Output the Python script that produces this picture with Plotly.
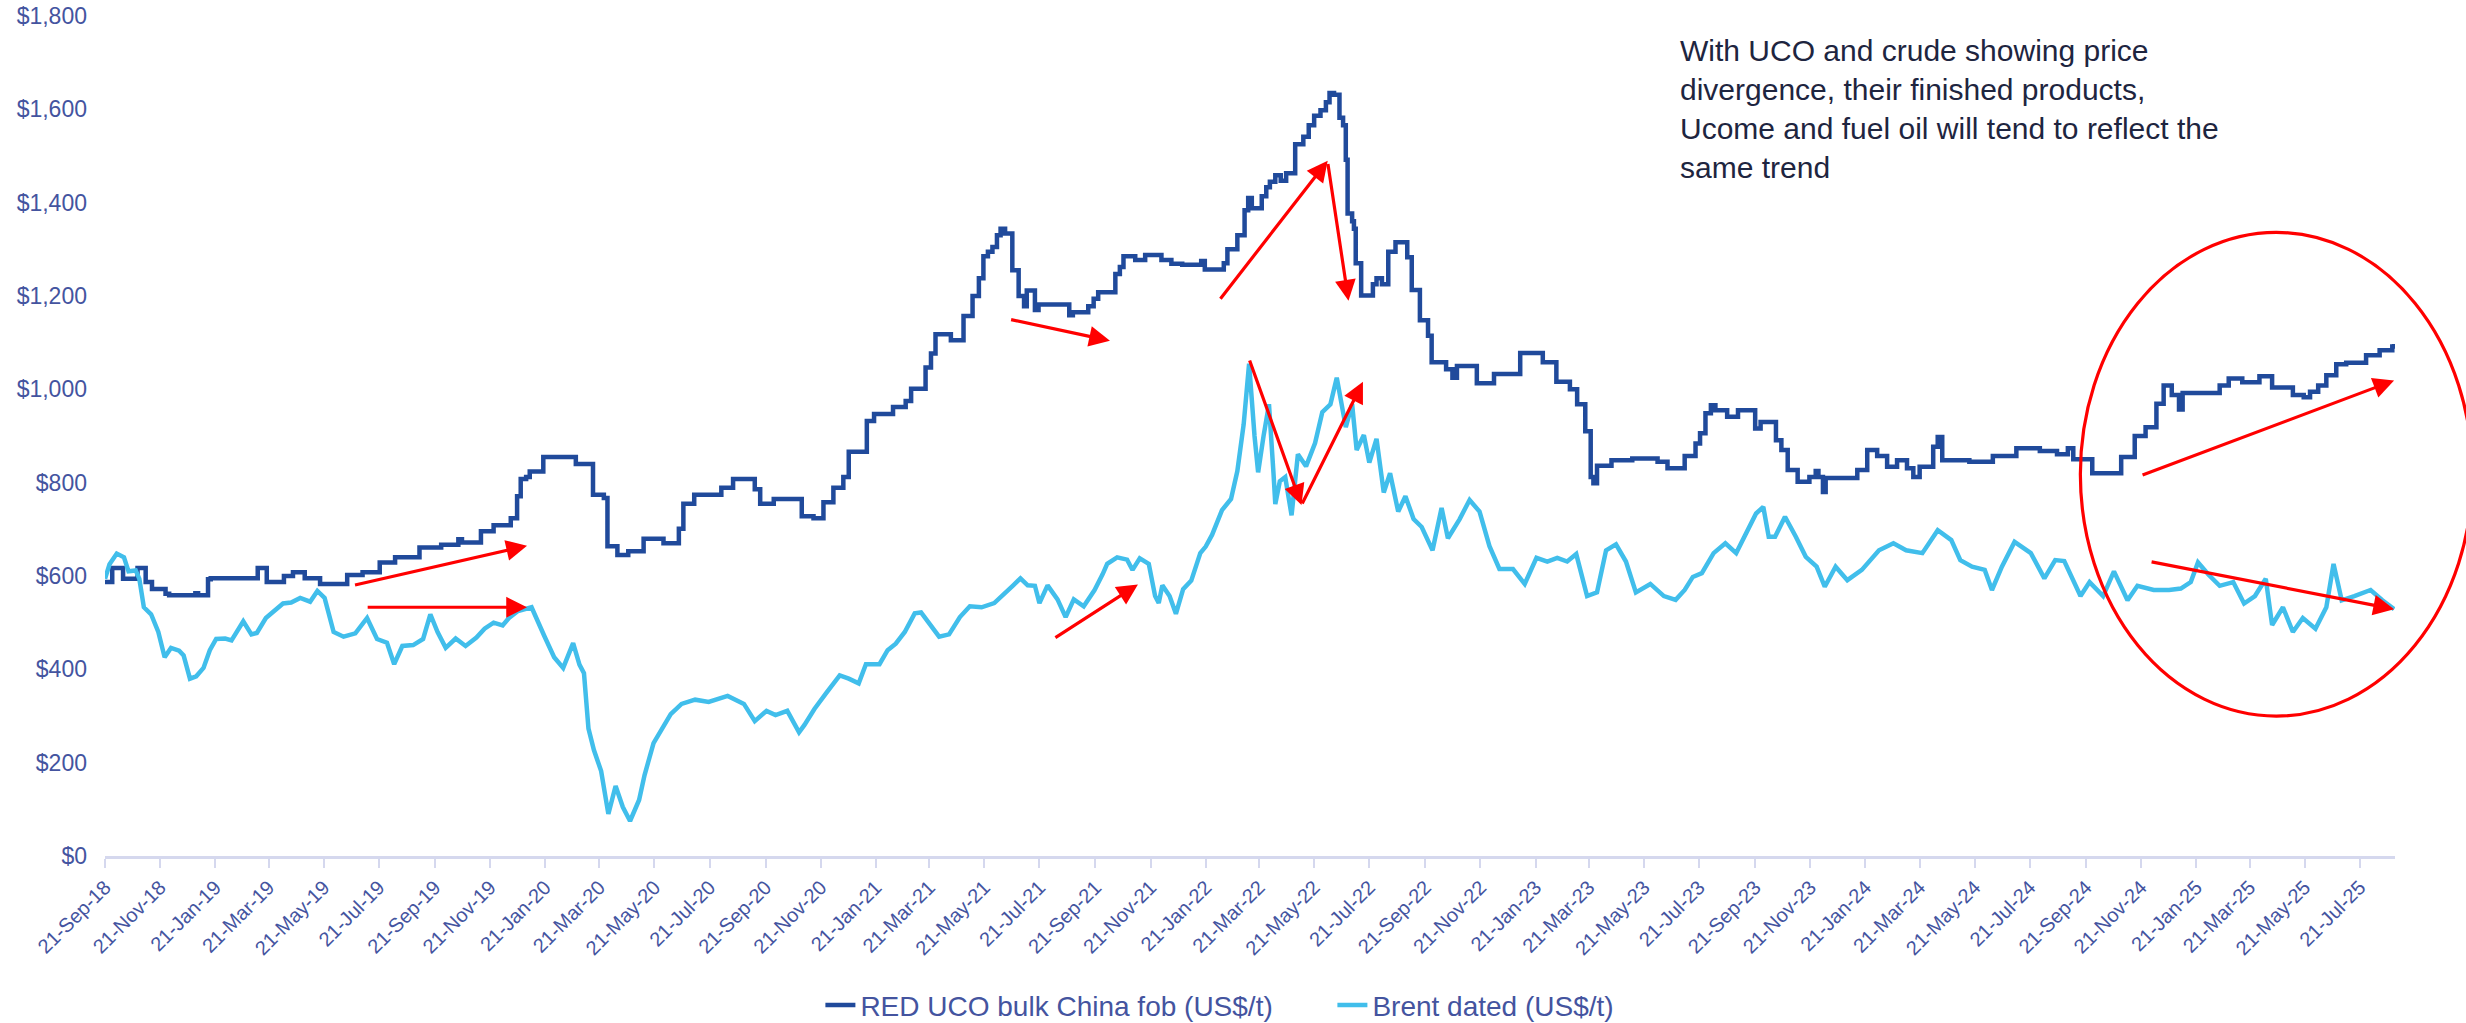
import pandas as pd
import plotly.graph_objects as go

# ---------------- data ----------------
uco_dates = [
    "2018-09-21","2018-09-29","2018-10-11","2018-10-27","2018-11-05","2018-11-12","2018-11-27","2018-12-01",
    "2018-12-30","2019-01-02","2019-01-13","2019-01-16","2019-03-09","2019-03-19","2019-04-07","2019-04-17",
    "2019-04-30","2019-05-17","2019-06-16","2019-07-03","2019-07-22","2019-08-08","2019-09-04","2019-09-28",
    "2019-10-17","2019-10-21","2019-11-11","2019-11-25","2019-12-14","2019-12-21","2019-12-25","2019-12-31",
    "2020-01-04","2020-01-19","2020-02-24","2020-03-14","2020-03-26","2020-03-30","2020-04-10","2020-04-22",
    "2020-05-09","2020-05-31","2020-06-17","2020-06-22","2020-07-04","2020-08-03","2020-08-16","2020-09-09",
    "2020-09-15","2020-09-30","2020-10-31","2020-11-13","2020-11-24","2020-12-05","2020-12-16","2020-12-22",
    "2021-01-11","2021-01-19","2021-02-09","2021-02-23","2021-03-01","2021-03-17","2021-03-23","2021-03-28",
    "2021-04-14","2021-04-28","2021-05-08","2021-05-15","2021-05-20","2021-05-25","2021-05-30","2021-06-04",
    "2021-06-08","2021-06-13","2021-06-21","2021-06-28","2021-07-04","2021-07-07","2021-07-16","2021-07-20",
    "2021-08-23","2021-08-27","2021-09-13","2021-09-19","2021-09-24","2021-10-13","2021-10-18","2021-10-22",
    "2021-11-04","2021-11-15","2021-12-03","2021-12-14","2021-12-26","2022-01-16","2022-01-20","2022-02-10",
    "2022-02-14","2022-02-25","2022-03-05","2022-03-09","2022-03-13","2022-03-24","2022-03-29","2022-04-02",
    "2022-04-08","2022-04-14","2022-04-20","2022-04-30","2022-05-09","2022-05-15","2022-05-21","2022-05-28",
    "2022-06-03","2022-06-07","2022-06-12","2022-06-18","2022-06-22","2022-06-25","2022-06-27","2022-07-02",
    "2022-07-04","2022-07-06","2022-07-12","2022-07-25","2022-07-29","2022-08-04","2022-08-11","2022-08-19",
    "2022-09-01","2022-09-06","2022-09-15","2022-09-24","2022-09-28","2022-10-14","2022-10-21","2022-10-26",
    "2022-11-17","2022-12-06","2023-01-04","2023-01-29","2023-02-13","2023-02-28","2023-03-08","2023-03-17",
    "2023-03-23","2023-03-26","2023-03-30","2023-04-15","2023-05-08","2023-06-05","2023-06-16","2023-07-05",
    "2023-07-17","2023-07-22","2023-07-28","2023-08-03","2023-08-08","2023-08-21","2023-09-02","2023-09-21",
    "2023-09-27","2023-10-14","2023-10-20","2023-10-27","2023-11-07","2023-11-20","2023-11-27","2023-11-30",
    "2023-12-05","2023-12-08","2024-01-12","2024-01-23","2024-02-03","2024-02-14","2024-02-25","2024-03-07",
    "2024-03-14","2024-03-21","2024-04-05","2024-04-10","2024-04-15","2024-05-15","2024-06-10","2024-07-06",
    "2024-08-01","2024-08-20","2024-09-01","2024-09-07","2024-09-28","2024-10-30","2024-11-14","2024-11-26",
    "2024-12-08","2024-12-16","2024-12-25","2025-01-02","2025-01-06","2025-02-16","2025-02-26","2025-03-13",
    "2025-04-01","2025-04-15","2025-05-08","2025-05-20","2025-05-27","2025-06-05","2025-06-14","2025-06-25",
    "2025-07-06","2025-07-28","2025-08-12","2025-08-26","2025-08-28",
]
uco_values = [
    587,617,594,617,587,572,562,559,
    563,559,593,595,617,587,600,608,
    595,583,602,608,629,640,661,667,
    679,672,696,709,724,771,808,812,
    824,855,840,774,767,664,645,653,
    680,670,701,755,774,789,808,786,
    755,765,728,724,758,789,812,866,
    932,947,962,975,1001,1047,1077,1118,
    1105,1157,1200,1238,1285,1295,1305,1330,
    1344,1334,1255,1200,1178,1212,1170,1182,
    1159,1165,1178,1194,1208,1247,1262,1285,
    1277,1288,1277,1269,1267,1275,1257,1270,
    1300,1330,1384,1410,1388,1414,1433,1445,
    1459,1447,1463,1525,1541,1566,1586,1598,
    1615,1635,1631,1582,1566,1492,1377,1360,
    1344,1270,1201,1225,1238,1225,1295,1315,
    1283,1213,1148,1115,1058,1043,1025,1050,
    1013,1033,1078,1058,1016,1000,968,910,
    812,799,836,848,852,845,831,857,
    884,906,949,966,955,941,955,916,
    930,891,870,827,802,812,825,812,
    780,810,827,870,857,834,848,831,
    812,834,877,898,848,845,857,874,
    868,861,874,850,820,855,900,919,
    969,1008,988,957,992,1008,1023,1015,
    1028,1004,988,983,995,1008,1030,1054,
    1057,1073,1084,1092,1097,
]

brent_dates = [
    "2018-09-21","2018-09-26","2018-10-04","2018-10-12","2018-10-17","2018-10-25","2018-10-29","2018-11-03",
    "2018-11-11","2018-11-19","2018-11-26","2018-12-03","2018-12-12","2018-12-17","2018-12-24","2018-12-31",
    "2019-01-08","2019-01-15","2019-01-22","2019-02-01","2019-02-08","2019-02-21","2019-03-02","2019-03-08",
    "2019-03-18","2019-03-28","2019-04-06","2019-04-15","2019-04-25","2019-05-06","2019-05-14","2019-05-22",
    "2019-06-01","2019-06-12","2019-06-25","2019-07-08","2019-07-19","2019-07-30","2019-08-07","2019-08-16",
    "2019-08-28","2019-09-08","2019-09-16","2019-09-24","2019-10-03","2019-10-14","2019-10-25","2019-11-06",
    "2019-11-15","2019-11-25","2019-12-05","2019-12-12","2019-12-22","2020-01-06","2020-01-11","2020-01-20",
    "2020-01-31","2020-02-10","2020-02-21","2020-02-28","2020-03-04","2020-03-09","2020-03-15","2020-03-23",
    "2020-03-31","2020-04-08","2020-04-16","2020-04-24","2020-05-04","2020-05-10","2020-05-20","2020-05-30",
    "2020-06-08","2020-06-20","2020-07-05","2020-07-20","2020-08-10","2020-08-28","2020-09-09","2020-09-22",
    "2020-10-02","2020-10-15","2020-10-28","2020-11-03","2020-11-14","2020-11-27","2020-12-07","2020-12-12",
    "2020-12-22","2021-01-02","2021-01-10","2021-01-25","2021-02-03","2021-02-12","2021-02-22","2021-03-05",
    "2021-03-12","2021-03-22","2021-04-01","2021-04-12","2021-04-24","2021-05-05","2021-05-18","2021-06-01",
    "2021-06-10","2021-06-22","2021-06-30","2021-07-08","2021-07-16","2021-07-21","2021-07-30","2021-08-10",
    "2021-08-19","2021-08-28","2021-09-08","2021-09-20","2021-09-29","2021-10-04","2021-10-15","2021-10-26",
    "2021-11-01","2021-11-09","2021-11-19","2021-11-26","2021-11-30","2021-12-04","2021-12-12","2021-12-19",
    "2021-12-27","2022-01-05","2022-01-15","2022-01-21","2022-01-28","2022-02-08","2022-02-18","2022-02-25",
    "2022-03-04","2022-03-10","2022-03-16","2022-03-20","2022-03-26","2022-04-01","2022-04-06","2022-04-08",
    "2022-04-13","2022-04-19","2022-04-26","2022-05-03","2022-05-12","2022-05-22","2022-05-30","2022-06-08",
    "2022-06-15","2022-06-20","2022-06-25","2022-07-02","2022-07-07","2022-07-15","2022-07-21","2022-07-29",
    "2022-08-06","2022-08-13","2022-08-22","2022-08-30","2022-09-08","2022-09-17","2022-09-29","2022-10-09",
    "2022-10-16","2022-10-29","2022-11-09","2022-11-20","2022-12-01","2022-12-12","2022-12-27","2023-01-09",
    "2023-01-22","2023-02-03","2023-02-14","2023-02-25","2023-03-07","2023-03-19","2023-03-30","2023-04-09",
    "2023-04-20","2023-05-01","2023-05-12","2023-05-28","2023-06-12","2023-06-25","2023-07-05","2023-07-14",
    "2023-07-24","2023-08-06","2023-08-19","2023-08-31","2023-09-12","2023-09-22","2023-09-30","2023-10-06",
    "2023-10-13","2023-10-24","2023-11-05","2023-11-16","2023-11-28","2023-12-07","2023-12-19","2024-01-01",
    "2024-01-17","2024-02-05","2024-02-21","2024-03-06","2024-03-24","2024-04-10","2024-04-25","2024-05-05",
    "2024-05-18","2024-06-01","2024-06-09","2024-06-20","2024-07-04","2024-07-22","2024-08-06","2024-08-18",
    "2024-08-28","2024-09-06","2024-09-15","2024-09-25","2024-10-10","2024-10-22","2024-11-06","2024-11-17",
    "2024-12-05","2024-12-22","2025-01-04","2025-01-15","2025-01-23","2025-02-04","2025-02-16","2025-03-03",
    "2025-03-15","2025-03-27","2025-04-08","2025-04-15","2025-04-27","2025-05-08","2025-05-19","2025-06-02",
    "2025-06-14","2025-06-22","2025-07-01","2025-07-15","2025-08-02","2025-08-15","2025-08-28",
]
brent_values = [
    594,625,648,640,610,612,594,533,
    518,480,426,446,440,430,380,385,
    403,441,465,466,462,503,475,478,
    510,525,541,543,553,545,568,553,
    480,470,477,510,465,457,411,450,
    452,465,518,480,446,466,450,468,
    487,500,494,510,525,533,510,472,
    426,403,456,410,392,273,227,182,
    90,150,105,75,120,173,242,273,
    304,326,335,330,343,326,289,311,
    302,311,265,281,315,349,375,387,
    380,370,411,411,441,455,480,520,
    522,495,470,475,512,535,533,542,
    557,580,595,580,579,542,580,550,
    512,550,535,570,604,626,640,635,
    613,638,626,557,542,580,557,519,
    572,590,649,663,688,741,765,825,
    925,1055,900,822,900,968,820,754,
    803,812,730,861,835,885,951,968,
    1025,968,919,968,870,902,843,894,
    779,820,738,771,722,705,655,746,
    681,722,763,738,664,615,615,583,
    639,631,639,631,647,557,565,655,
    668,631,565,583,557,549,570,598,
    606,649,670,649,698,734,748,684,
    684,727,684,641,620,577,620,591,
    613,655,670,655,649,698,677,634,
    620,613,570,620,673,649,595,634,
    632,594,557,587,557,610,548,579,
    570,570,573,587,629,602,579,587,
    541,557,594,495,533,480,510,487,
    533,626,548,557,570,548,529,
]

series_names = ["RED UCO bulk China fob (US$/t)", "Brent dated (US$/t)"]
note_text = ("With UCO and crude showing price<br>divergence, their finished products,<br>"
             "Ucome and fuel oil will tend to reflect the<br>same trend")

# x-axis ticks: every two months on the 21st
tick_dates = pd.date_range("2018-09-21", "2025-07-21", freq=pd.DateOffset(months=2))
tick_text = [d.strftime("%d-%b-%y") for d in tick_dates]
y_ticks = list(range(0, 1801, 200))
y_tick_text = [f"${v:,}" for v in y_ticks]

# ---------------- styling ----------------
UCO_COLOR = "#204A9B"
BRENT_COLOR = "#41BEEB"
RED = "#FF0000"
AXIS_TXT = "#44549F"
FONT = "Liberation Sans, Arial, sans-serif"

fig = go.Figure()
fig.add_trace(go.Scatter(x=pd.to_datetime(uco_dates), y=uco_values, mode="lines",
                         name=series_names[0], line=dict(color=UCO_COLOR, width=4.5, shape="hv")))
fig.add_trace(go.Scatter(x=pd.to_datetime(brent_dates), y=brent_values, mode="lines",
                         name=series_names[1], line=dict(color=BRENT_COLOR, width=4.5)))

# red trend arrows: (tail date, tail value, head date, head value)
arrows = [
    ("2019-06-23", 580, "2020-01-01", 665),
    ("2019-07-07", 533, "2020-01-01", 533),
    ("2021-06-18", 1150, "2021-10-07", 1104),
    ("2021-08-06", 466, "2021-11-07", 582),
    ("2022-02-05", 1191, "2022-06-05", 1490),
    ("2022-06-05", 1486, "2022-06-28", 1190),
    ("2022-03-10", 1065, "2022-05-07", 752),
    ("2022-05-07", 752, "2022-07-14", 1016),
    ("2024-11-21", 815, "2025-08-28", 1019),
    ("2024-12-01", 631, "2025-08-28", 529),
]
annotations = []
for tx, ty, hx, hy in arrows:
    annotations.append(dict(x=hx, y=hy, ax=tx, ay=ty, xref="x", yref="y", axref="x", ayref="y",
                            text="", showarrow=True, arrowhead=2, arrowsize=1.3, arrowwidth=3.2,
                            arrowcolor=RED, standoff=0, startstandoff=0))
annotations.append(dict(x=0.6868, y=0.981, xref="paper", yref="paper", xanchor="left", yanchor="top",
                        text=note_text, showarrow=False, align="left",
                        font=dict(family=FONT, size=30, color="#1E2540")))

shapes = [dict(type="circle", xref="paper", yref="paper", x0=0.8626, x1=1.0338, y0=0.1666, y1=0.7424,
               line=dict(color=RED, width=3.2), fillcolor="rgba(0,0,0,0)", layer="above")]

fig.update_layout(
    width=2466, height=1023,
    margin=dict(l=105, r=71, t=16, b=167, autoexpand=False),
    paper_bgcolor="white", plot_bgcolor="white",
    font=dict(family=FONT, color=AXIS_TXT, size=20),
    showlegend=True,
    legend=dict(orientation="h", x=0.3124, xanchor="left", y=0.0172, yanchor="middle", yref="container",
                entrywidth=467, entrywidthmode="pixels",
                font=dict(family=FONT, size=28, color=AXIS_TXT), bgcolor="rgba(0,0,0,0)"),
    annotations=annotations,
    shapes=shapes,
    xaxis=dict(type="date", range=["2018-09-21", "2025-08-29"], tickvals=tick_dates, ticktext=tick_text,
               tickangle=-45, showgrid=False, zeroline=False, showline=True, linecolor="#D5D8EE",
               linewidth=2.5, ticks="outside", ticklen=9, tickcolor="#D5D8EE", tickwidth=1.5,
               automargin=False, tickfont=dict(family=FONT, size=20, color=AXIS_TXT)),
    yaxis=dict(range=[0, 1800], tickvals=y_ticks, ticktext=y_tick_text, showgrid=False,
               zeroline=False, showline=False, ticks="", automargin=False, ticklabelstandoff=17,
               ticklabeloverflow="allow",
               tickfont=dict(family=FONT, size=23, color=AXIS_TXT)),
)

# remove the browser's default page margin so the figure fills the window exactly
fig.write_html("out.html", config={"displayModeBar": False},
               post_script="document.body.style.margin='0';")
